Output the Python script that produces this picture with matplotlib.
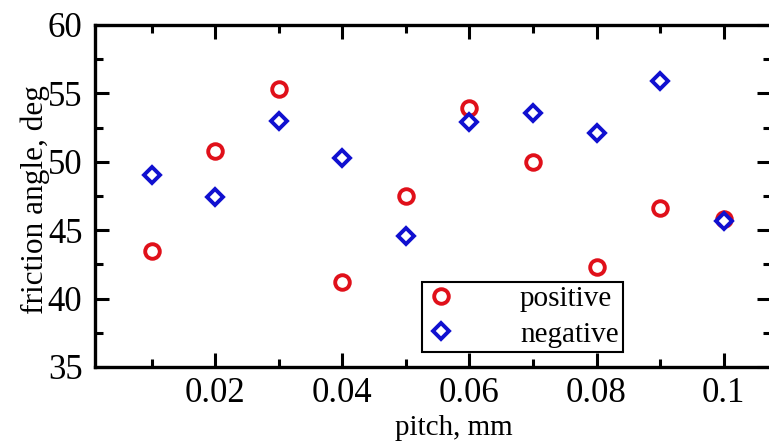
import matplotlib
matplotlib.use("Agg")
import matplotlib.pyplot as plt
from matplotlib.ticker import MultipleLocator

pitch = [0.01, 0.02, 0.03, 0.04, 0.05, 0.06, 0.07, 0.08, 0.09, 0.10]
positive = [43.5, 50.8, 55.3, 41.2, 47.5, 53.9, 50.0, 42.3, 46.6, 45.8]
negative = [49.0, 47.4, 53.0, 50.3, 44.6, 52.9, 53.6, 52.1, 55.9, 45.7]
xticks = [0.02, 0.04, 0.06, 0.08, 0.1]
xticklabels = ["0.02", "0.04", "0.06", "0.08", "0.1"]

plt.rcParams['font.family'] = ['Liberation Serif', 'DejaVu Serif']

fig = plt.figure(figsize=(7.69, 4.43), dpi=100)
ax = fig.add_axes([0.1235, 0.1716, 0.8795, 0.772])

ax.plot(pitch, positive, linestyle='none', marker='o', markersize=10.5,
        markerfacecolor='white', markeredgecolor='#e0101a', markeredgewidth=2.8,
        label='positive')
ax.plot(pitch, negative, linestyle='none', marker='D', markersize=8.5,
        markerfacecolor='white', markeredgecolor='#1010d0', markeredgewidth=2.8,
        label='negative')

ax.set_xlim(0.0011, 0.1075)
ax.set_ylim(35, 60)
ax.set_xticks(xticks)
ax.set_xticklabels(xticklabels)
ax.xaxis.set_minor_locator(MultipleLocator(0.01))
ax.yaxis.set_major_locator(MultipleLocator(5))
ax.yaxis.set_minor_locator(MultipleLocator(2.5))

ax.tick_params(which='both', direction='in', top=True, right=True, width=2.2, labelsize=25)
ax.tick_params(which='major', length=10)
ax.tick_params(which='minor', length=6)
ax.tick_params(axis='x', pad=7)
ax.tick_params(axis='y', pad=9)
for s in ax.spines.values():
    s.set_linewidth(2.4)

ax.set_xlabel('pitch, mm', fontsize=21)
ax.xaxis.set_label_coords(0.53, -0.14)
ax.set_ylabel('friction angle, deg', fontsize=22.5)
ax.yaxis.set_label_coords(-0.066, 0.49)

leg = ax.legend(loc='lower left', bbox_to_anchor=(0.484, 0.044), fontsize=21,
                frameon=True, fancybox=False, edgecolor='black', framealpha=1,
                handletextpad=2.2, borderpad=0.15, labelspacing=0.3,
                handlelength=1.0, borderaxespad=0)
leg.get_frame().set_linewidth(1.5)

fig.savefig('out.png', dpi=100)
